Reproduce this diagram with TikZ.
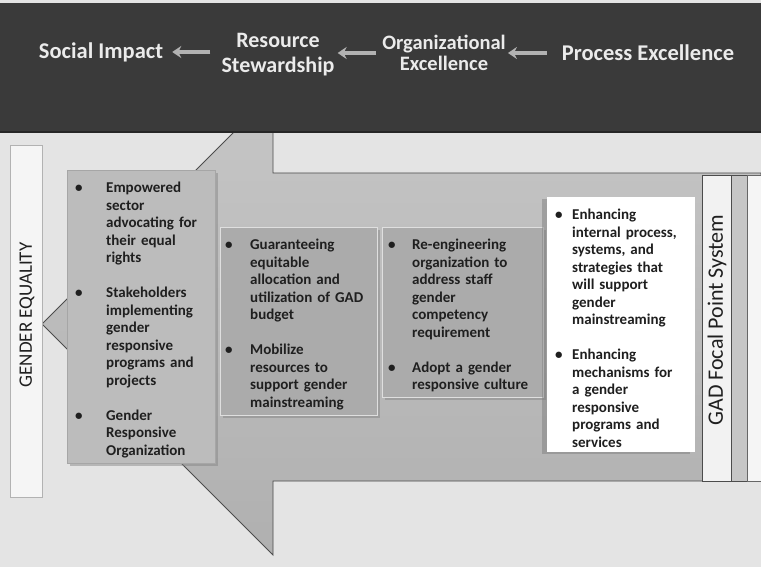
\documentclass[tikz,border=0pt]{standalone}
\usepackage{fontspec}
\setmainfont{Carlito}
\usetikzlibrary{arrows.meta,positioning,shadows}

\definecolor{paper}{HTML}{E4E4E4}
\definecolor{band}{HTML}{3A3A3A}
\definecolor{inktext}{HTML}{1F1F1F}
\definecolor{boxlight}{HTML}{BCBCBC}
\definecolor{boxmid}{HTML}{ABABAB}

\newcommand{\gadpt}[2]{\par\hangindent=#1\hangafter=1\noindent\makebox[#1][l]{\textbullet}#2\par}
\newcommand{\gadgap}{\vspace{\baselineskip}}

\tikzset{
  headtext/.style = {font=\fontsize{22.5}{24}\selectfont\bfseries, text=white!92!black,
                     align=center, inner sep=0pt},
  headflow/.style = {-{Stealth[length=9pt,width=12pt]}, draw=gray!60, line width=3.5pt},
  goalbox/.style  = {anchor=north west, align=left, inner ysep=5pt, text=inktext,
                     font=\fontsize{15}{17.5}\selectfont\bfseries},
  sidetag/.style  = {rotate=90, inner sep=0pt, text=inktext},
  boxshade/.style = {drop shadow={shadow xshift=3pt, shadow yshift=-3pt, opacity=0.45}},
}

\begin{document}
\begin{tikzpicture}[x=1pt, y=-1pt]
\useasboundingbox (0,0) rectangle (761,567);
\fill[paper] (0,0) rectangle (761,567);

% ---------------- the big arrow -------------------------------------
\draw[draw=black!70, line width=0.9pt, top color=gray!45, bottom color=gray!62]
  (42,324) -- (273,93) -- (273,173) -- (761,173) -- (761,481)
  -- (273,481) -- (273,555) -- cycle;

% strips at the right end
\draw[fill=gray!10, draw=black!70, line width=0.8pt] (702,175) rectangle (731,481);
\draw[fill=gray!45, draw=black!70] (731,175) rectangle (747,481);
\draw[fill=white!92!gray, draw=black!60] (747,175) rectangle (761,481);
\node[sidetag, font=\fontsize{22}{24}\selectfont] (gadfps) at (717,320) {GAD Focal Point System};

% ---------------- dark band with the perspectives -------------------
\fill[band] (0,3) rectangle (761,133);
\draw[black!85, line width=1.5pt] (0,132) -- (761,132);

\node[headtext] (social) at (101,52) {Social Impact};
\node[headtext, font=\fontsize{22}{25}\selectfont\bfseries] (steward) at (278,55) {Resource\\Stewardship};
\node[headtext, font=\fontsize{20.5}{21}\selectfont\bfseries] (orgexc) at (444,53) {Organizational\\Excellence};
\node[headtext] (procexc) at (648,53) {Process Excellence};

\draw[headflow, shorten <=11pt, shorten >=9pt] (steward.west |- social) -- (social.east);
\draw[headflow, shorten <=6pt, shorten >=3pt] (orgexc.west) -- (steward.east |- orgexc.west);
\draw[headflow, shorten <=15pt, shorten >=2pt] (procexc.west) -- (orgexc.east |- procexc.west);

% ---------------- goal label on the left ----------------------------
\draw[fill=gray!8, draw=gray!60] (10,145) rectangle (42,497);
\node[sidetag, font=\fontsize{19}{21}\selectfont] (gendereq) at (27,315) {GENDER EQUALITY};

% ---------------- the four boxes ------------------------------------
\node[goalbox, boxshade, fill=boxlight, draw=gray!70, text width=132pt, inner xsep=8pt] (impact) at (67,170)
  {\gadpt{31pt}{Empowered\newline sector\newline advocating for\newline their equal\newline rights}
   \gadgap
   \gadpt{31pt}{Stakeholders\newline implementing\newline gender\newline responsive\newline programs and\newline projects}
   \gadgap
   \gadpt{31pt}{Gender\newline Responsive\newline Organization}};

\node[goalbox, boxshade, fill=boxmid, draw=white!75!gray, text width=147pt, inner xsep=5pt] (stewbox) at (220,227)
  {\gadpt{25pt}{Guaranteeing\newline equitable\newline allocation and\newline utilization of GAD\newline budget}
   \gadgap
   \gadpt{25pt}{Mobilize\newline resources to\newline support gender\newline mainstreaming}};

\node[goalbox, boxshade, fill=boxmid, draw=white!75!gray, text width=149pt, inner xsep=6pt] (orgbox) at (382,227)
  {\gadpt{24pt}{Re-engineering\newline organization to\newline address staff\newline gender\newline competency\newline requirement}
   \gadgap
   \gadpt{24pt}{Adopt a gender\newline responsive culture}};

\node[goalbox, fill=white, text width=132pt, inner xsep=8pt,
      drop shadow={shadow xshift=-5pt, shadow yshift=-2pt, opacity=0.5}] (procbox) at (547,197)
  {\gadpt{17pt}{Enhancing\newline internal process,\newline systems, and\newline strategies that\newline will support\newline gender\newline mainstreaming}
   \gadgap
   \gadpt{17pt}{Enhancing\newline mechanisms for\newline a gender\newline responsive\newline programs and\newline services}};

\end{tikzpicture}
\end{document}
